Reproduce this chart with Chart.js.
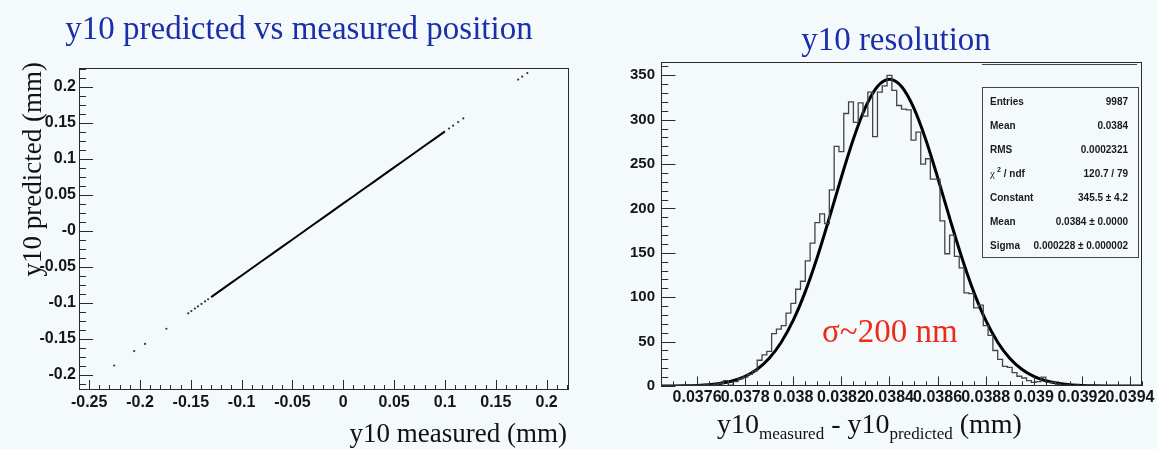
<!DOCTYPE html>
<html>
<head>
<meta charset="utf-8">
<script src="https://cdn.jsdelivr.net/npm/chart.js@4.4.1/dist/chart.umd.min.js"></script>
<style>
  body { margin: 0; background: #f4fafc; }
  #wrap { position: relative; width: 1157px; height: 449px; overflow: hidden; }
  canvas { position: absolute; top: 0; }
</style>
</head>
<body>
<div id="wrap">
  <canvas id="scatter" width="580" height="449" style="left:0"></canvas>
  <canvas id="resol" width="577" height="449" style="left:580px"></canvas>
</div>
<script>
// ---- left panel: y10 predicted vs measured position (mm)
const measuredLine = [-0.13, -0.12, -0.11, -0.10, -0.09, -0.08, -0.07, -0.06, -0.05, -0.04, -0.03, -0.02,
  -0.01, 0.00, 0.01, 0.02, 0.03, 0.04, 0.05, 0.06, 0.07, 0.08, 0.09, 0.10];
const predictedLine = [-0.092, -0.082, -0.072, -0.062, -0.052, -0.042, -0.032, -0.022, -0.012, -0.002, 0.008, 0.018,
  0.028, 0.038, 0.048, 0.058, 0.068, 0.078, 0.088, 0.098, 0.108, 0.118, 0.128, 0.138];
const measuredDots = [-0.2254, -0.2057, -0.195, -0.174, -0.1525, -0.1495, -0.146, -0.143, -0.1395, -0.136, -0.133,
  0.104, 0.108, 0.113, 0.118, 0.172, 0.176, 0.181];
const predictedDots = [-0.187, -0.167, -0.157, -0.136, -0.1145, -0.1115, -0.108, -0.105, -0.1015, -0.098, -0.095,
  0.142, 0.146, 0.151, 0.156, 0.210, 0.214, 0.219];
const scatterXTicks = [-0.25, -0.2, -0.15, -0.1, -0.05, 0, 0.05, 0.1, 0.15, 0.2];
const scatterXLabels = ['-0.25', '-0.2', '-0.15', '-0.1', '-0.05', '0', '0.05', '0.1', '0.15', '0.2'];
const scatterYTicks = [-0.2, -0.15, -0.1, -0.05, 0, 0.05, 0.1, 0.15, 0.2];
const scatterYLabels = ['-0.2', '-0.15', '-0.1', '-0.05', '-0', '0.05', '0.1', '0.15', '0.2'];

// ---- right panel: y10 measured - predicted, 100 bins of 0.00002 mm
const histLow = 0.03745;
const binWidth = 0.00002;
const binCounts = [0, 0, 0, 0, 0, 0, 0, 0, 1, 1,
  2, 1, 2, 3, 6, 1, 5, 8, 10, 13,
  17, 29, 35, 39, 59, 64, 68, 82, 93, 109,
  118, 141, 161, 184, 194, 183, 221, 270, 264, 307,
  320, 297, 319, 304, 331, 281, 331, 338, 350, 333,
  316, 312, 311, 277, 286, 250, 256, 233, 233, 186,
  149, 170, 146, 133, 105, 104, 88, 91, 68, 57,
  40, 30, 22, 21, 15, 11, 9, 6, 4, 5,
  10, 4, 4, 2, 1, 1, 0, 1, 0, 0,
  0, 0, 0, 0, 0, 0, 0, 0, 0, 0];
// gaussian fit as drawn
const fitX = [0.03745, 0.0375, 0.03755, 0.0376, 0.03765, 0.0377, 0.03775, 0.0378, 0.03785, 0.0379,
  0.03795, 0.038, 0.03805, 0.0381, 0.03815, 0.0382, 0.03825, 0.0383, 0.03835, 0.0384,
  0.03845, 0.0385, 0.03855, 0.0386, 0.03865, 0.0387, 0.03875, 0.0388, 0.03885, 0.0389,
  0.03895, 0.039, 0.03905, 0.0391, 0.03915, 0.0392, 0.03925, 0.0393, 0.03935, 0.0394, 0.03945];
const fitY = [0.05, 0.1, 0.3, 0.7, 1.5, 3.1, 5.9, 10.8, 18.8, 31.2,
  49.3, 74.1, 106.3, 145.4, 189.4, 235.2, 278.3, 313.8, 337.3, 345.5,
  337.3, 313.8, 278.3, 235.2, 189.4, 145.4, 106.3, 74.1, 49.3, 31.2,
  18.8, 10.8, 5.9, 3.1, 1.5, 0.7, 0.3, 0.1, 0.05, 0.0, 0.0];
const resXTicks = [0.0376, 0.0378, 0.038, 0.0382, 0.0384, 0.0386, 0.0388, 0.039, 0.0392, 0.0394];
const resXLabels = ['0.0376', '0.0378', '0.038', '0.0382', '0.0384', '0.0386', '0.0388', '0.039', '0.0392', '0.0394'];
const resYTicks = [0, 50, 100, 150, 200, 250, 300, 350];
const statNames = ['Entries', 'Mean', 'RMS', 'chi2', 'Constant', 'Mean', 'Sigma'];
const statValues = ['9987', '0.0384', '0.0002321', '120.7 / 79', '345.5 \u00b1 4.2', '0.0384 \u00b1 0.0000', '0.000228 \u00b1 0.000002'];

Chart.defaults.font.family = '"Liberation Sans", Arial, sans-serif';
const serif = '"Liberation Serif", "Times New Roman", serif';

// ROOT style frame with ticks pointing inwards
const rootFrame = {
  id: 'rootFrame',
  afterDatasetsDraw(chart, args, o) {
    const ctx = chart.ctx, a = chart.chartArea;
    ctx.save();
    ctx.strokeStyle = '#2a2a2a';
    ctx.lineWidth = 1;
    ctx.strokeRect(Math.round(a.left) + 0.5, Math.round(a.top) + 0.5,
      Math.round(a.right - a.left) - 1, Math.round(a.bottom - a.top) - 1);
    ['x', 'y'].forEach(id => {
      const s = chart.scales[id], t = o[id];
      const n0 = Math.ceil(s.min / t.minor - 1e-6), n1 = Math.floor(s.max / t.minor + 1e-6);
      for (let n = n0; n <= n1; n++) {
        const len = (Math.abs(n) % t.div === 0) ? t.major : t.major / 2;
        const p = Math.round(s.getPixelForValue(n * t.minor)) + 0.5;
        ctx.beginPath();
        if (id === 'x') { ctx.moveTo(p, a.bottom); ctx.lineTo(p, a.bottom - len); }
        else { ctx.moveTo(a.left, p); ctx.lineTo(a.left + len, p); }
        ctx.stroke();
      }
    });
    ctx.restore();
  }
};

// free text: titles, axis titles, notes, stat box
const slideText = {
  id: 'slideText',
  afterDraw(chart, args, o) {
    const ctx = chart.ctx;
    ctx.save();
    o.draw(ctx);
    ctx.restore();
  }
};

function tickScale(ticks, labels, size, pad, fitProp, fitVal) {
  return {
    type: 'linear',
    grid: { display: false, drawTicks: false },
    border: { display: false },
    ticks: {
      autoSkip: false, maxRotation: 0, minRotation: 0, padding: pad,
      color: '#151515', font: { size: size, weight: 'bold' },
      callback: (v, i) => labels[i]
    },
    afterBuildTicks: s => { s.ticks = ticks.map(v => ({ value: v })); },
    afterFit: s => { s[fitProp] = fitVal; }
  };
}

const xL = tickScale(scatterXTicks, scatterXLabels, 16, 3, 'height', 59);
xL.min = -0.26; xL.max = 0.222;
const yL = tickScale(scatterYTicks, scatterYLabels, 16, 3, 'width', 79);
yL.min = -0.221; yL.max = 0.226;

new Chart(document.getElementById('scatter'), {
  type: 'scatter',
  data: {
    datasets: [
      {
        type: 'line',
        data: measuredLine.map((x, i) => ({ x: x, y: predictedLine[i] })),
        showLine: true, pointRadius: 0, borderColor: '#000', borderWidth: 2
      },
      {
        data: measuredDots.map((x, i) => ({ x: x, y: predictedDots[i] })),
        pointRadius: 1.1, borderWidth: 0, backgroundColor: '#333'
      }
    ]
  },
  options: {
    responsive: false,
    animation: false,
    layout: { padding: { top: 68, right: 11, left: 0, bottom: 0 } },
    scales: { x: xL, y: yL },
    plugins: {
      legend: { display: false },
      tooltip: { enabled: false },
      rootFrame: {
        x: { minor: 0.01, div: 5, major: 10 },
        y: { minor: 0.0125, div: 4, major: 14 }
      },
      slideText: {
        draw(ctx) {
          ctx.fillStyle = '#1b2fa6';
          ctx.font = '33px ' + serif;
          ctx.textAlign = 'center';
          ctx.fillText('y10 predicted vs measured position', 299, 39);
          ctx.fillStyle = '#111';
          ctx.font = '27px ' + serif;
          ctx.textAlign = 'right';
          ctx.fillText('y10 measured (mm)', 567, 442);
          ctx.translate(41, 62);
          ctx.rotate(-Math.PI / 2);
          ctx.fillText('y10 predicted (mm)', 0, 0);
        }
      }
    }
  },
  plugins: [rootFrame, slideText]
});

const xR = tickScale(resXTicks, resXLabels, 16, 2, 'height', 63);
xR.min = histLow; xR.max = histLow + 100 * binWidth;
const yR = tickScale(resYTicks, resYTicks.map(String), 15, 6, 'width', 81);
yR.min = 0; yR.max = 365;

const histPoints = binCounts.map((c, i) => ({ x: histLow + i * binWidth, y: c }));
histPoints.push({ x: histLow + binCounts.length * binWidth, y: binCounts[binCounts.length - 1] });

new Chart(document.getElementById('resol'), {
  type: 'line',
  data: {
    datasets: [
      {
        data: histPoints, stepped: 'after', pointRadius: 0,
        borderColor: '#444', borderWidth: 1.3, fill: false
      },
      {
        data: fitX.map((x, i) => ({ x: x, y: fitY[i] })),
        cubicInterpolationMode: 'monotone', pointRadius: 0,
        borderColor: '#000', borderWidth: 3, fill: false
      }
    ]
  },
  options: {
    responsive: false,
    animation: false,
    layout: { padding: { top: 62, right: 15, left: 0, bottom: 0 } },
    scales: { x: xR, y: yR },
    plugins: {
      legend: { display: false },
      tooltip: { enabled: false },
      rootFrame: {
        x: { minor: 0.00005, div: 4, major: 9.5 },
        y: { minor: 10, div: 5, major: 14.5 }
      },
      slideText: {
        draw(ctx) {
          ctx.fillStyle = '#1b2fa6';
          ctx.font = '33px ' + serif;
          ctx.textAlign = 'center';
          ctx.fillText('y10 resolution', 316, 50);

          // x axis title with subscripts
          ctx.fillStyle = '#111';
          ctx.textAlign = 'left';
          let x = 137;
          const part = (txt, size, dy) => {
            ctx.font = size + 'px ' + serif;
            ctx.fillText(txt, x, 433 + dy);
            x += ctx.measureText(txt).width;
          };
          part('y10', 28, 0); part('measured', 17, 6);
          part(' - y10', 28, 0); part('predicted', 17, 6);
          part(' (mm)', 28, 0);

          ctx.fillStyle = '#ee2a1b';
          ctx.font = '33px ' + serif;
          ctx.fillText('\u03c3~200 nm', 242, 342);

          // stat box
          ctx.strokeStyle = '#444';
          ctx.lineWidth = 1;
          ctx.beginPath();
          ctx.moveTo(402, 64.5); ctx.lineTo(557, 64.5);
          ctx.stroke();
          ctx.fillStyle = '#f4fafc';
          ctx.fillRect(402, 87, 156, 170);
          ctx.strokeRect(402.5, 87.5, 156, 170);
          ctx.fillStyle = '#1a1a1a';
          statNames.forEach((name, i) => {
            const yb = 104.5 + i * 24.05;
            ctx.textAlign = 'left';
            if (name === 'chi2') {
              ctx.font = '11px ' + serif;
              ctx.fillText('\u03c7', 410, yb);
              ctx.font = 'bold 7px "Liberation Sans"';
              ctx.fillText('2', 417, yb - 5);
              ctx.font = 'bold 10px "Liberation Sans"';
              ctx.fillText(' / ndf', 421, yb);
            } else {
              ctx.font = 'bold 10px "Liberation Sans"';
              ctx.fillText(name, 410, yb);
            }
            ctx.font = 'bold 10px "Liberation Sans"';
            ctx.textAlign = 'right';
            ctx.fillText(statValues[i], 548, yb);
          });
        }
      }
    }
  },
  plugins: [rootFrame, slideText]
});
</script>
</body>
</html>
